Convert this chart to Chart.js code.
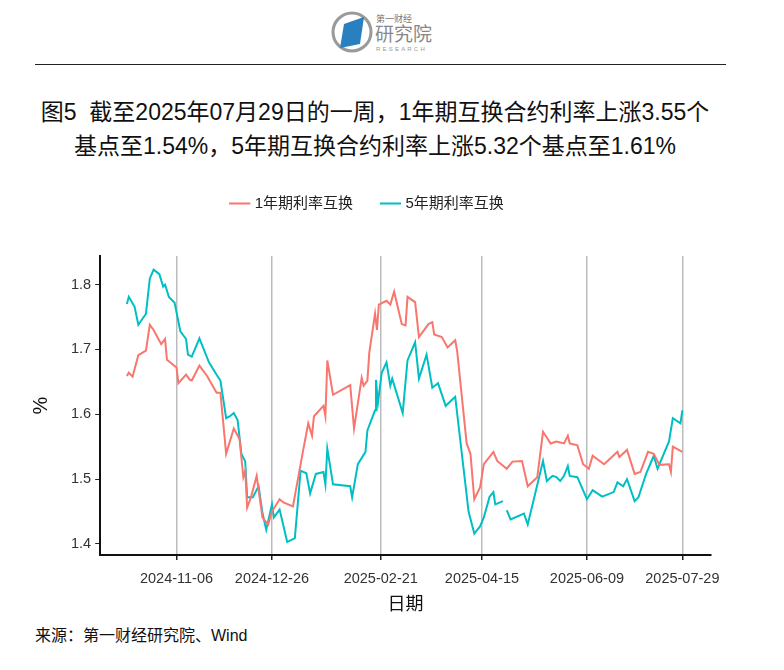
<!DOCTYPE html>
<html>
<head>
<meta charset="utf-8">
<script src="https://cdn.jsdelivr.net/npm/chart.js@4"></script>
<style>
  body { margin: 0; width: 784px; height: 670px; background: #fff; font-family: "Liberation Sans", "Noto Sans CJK SC", sans-serif; position: relative; overflow: hidden; }
  #logo { position: absolute; left: 330px; top: 8px; width: 120px; height: 48px; }
  #rule { position: absolute; left: 35px; top: 64px; width: 691px; height: 0; border-top: 1.5px solid #222; }
  #title { position: absolute; left: 0; top: 95px; width: 750px; text-align: center; font-size: 23px; line-height: 34px; color: #111; }
  #wrap { position: absolute; left: 0; top: 156px; width: 784px; height: 460px; }
  #source { position: absolute; left: 35px; top: 622px; font-size: 16px; color: #111; }
</style>
</head>
<body>
<svg id="logo" viewBox="0 0 120 48">
  <circle cx="22" cy="24" r="19" fill="none" stroke="#999" stroke-width="3"/>
  <polygon points="14,16 34,9 30,36 10,40" fill="#2a7fc1"/>
  <text x="46" y="14" font-size="9" fill="#777" font-family="Noto Sans CJK SC">第一财经</text>
  <text x="45" y="33" font-size="19" fill="#888" font-family="Noto Sans CJK SC">研究院</text>
  <text x="46" y="43" font-size="6" fill="#999" letter-spacing="2.2" font-family="Liberation Sans">RESEARCH</text>
</svg>
<div id="rule"></div>
<div id="title">图5&nbsp; 截至2025年07月29日的一周，1年期互换合约利率上涨3.55个<br>基点至1.54%，5年期互换合约利率上涨5.32个基点至1.61%</div>
<div id="wrap"><canvas id="chart" width="784" height="460"></canvas></div>
<div id="source">来源：第一财经研究院、Wind</div>
<script>
/* days counted from 2024-11-06 */
let tickDays = [0, 50, 107, 160, 215, 265]
let tickLabels = ['2024-11-06', '2024-12-26', '2025-02-21', '2025-04-15', '2025-06-09', '2025-07-29']

/* 1年期利率互换 */
let days1y = [-26,-25,-23,-20,-16,-14,-12,-8,-6,-5,0,1,5,7,8,12,16,21,23,26,30,33,35,36,37,39,42,45,48,50,54,56,61,66,69,71,72,77,78,79,82,91,93,97,98,100,101,104,105,106,110,112,114,118,120,121,125,127,132,134,135,139,142,146,147,152,154,156,159,161,166,168,173,176,181,184,189,192,196,199,203,205,206,210,213,216,218,224,231,232,236,240,243,247,250,253,258,259,260,265]
let rate1y = [1.659,1.664,1.658,1.691,1.698,1.738,1.730,1.708,1.716,1.684,1.672,1.648,1.661,1.653,1.652,1.675,1.659,1.633,1.633,1.539,1.578,1.562,1.503,1.513,1.456,1.472,1.505,1.441,1.430,1.450,1.469,1.464,1.458,1.539,1.586,1.567,1.597,1.613,1.597,1.683,1.630,1.645,1.578,1.656,1.644,1.652,1.695,1.755,1.730,1.769,1.775,1.769,1.789,1.739,1.737,1.781,1.773,1.719,1.739,1.742,1.723,1.719,1.703,1.714,1.698,1.555,1.539,1.469,1.487,1.523,1.542,1.528,1.516,1.527,1.528,1.489,1.503,1.573,1.555,1.558,1.555,1.567,1.555,1.552,1.523,1.516,1.536,1.523,1.542,1.534,1.545,1.508,1.511,1.542,1.539,1.522,1.523,1.511,1.550,1.542]

/* 5年期利率互换 (null = missing day) */
let days5y = [-26,-25,-22,-20,-16,-14,-12,-9,-7,-6,-4,-1,2,5,6,8,12,17,21,23,26,28,30,32,34,36,37,40,43,45,47,50,51,54,58,62,65,68,70,73,77,78,79,82,91,92,95,99,100,104,104.5,105.5,107.5,110,112,113,118.5,121,125,127,131,134,137,141,146,153,156,159,161,164,166,167,171,172,173,175,182,184,192,194,197,199,201,203,205,206,210,215,218,223,229,231,234,236,240,242,246,250,252,258,260,264,265]
let rate5y = [1.770,1.781,1.766,1.738,1.755,1.809,1.823,1.816,1.797,1.800,1.781,1.772,1.728,1.716,1.692,1.689,1.717,1.680,1.661,1.652,1.594,1.597,1.602,1.591,1.539,1.527,1.472,1.472,1.489,1.448,1.422,1.461,1.441,1.453,1.403,1.409,1.513,1.509,1.478,1.508,1.511,1.492,1.547,1.492,1.489,1.472,1.523,1.542,1.575,1.606,1.653,1.617,1.664,1.680,1.644,1.655,1.602,1.683,1.711,1.655,1.692,1.641,1.648,1.613,1.627,1.450,1.416,1.427,1.441,1.473,1.480,1.461,1.466,null,1.452,1.438,1.447,1.430,1.528,1.497,1.505,1.503,1.497,1.505,1.520,1.505,1.503,1.469,1.483,1.473,1.480,1.495,1.489,1.500,1.466,1.472,1.508,1.536,1.516,1.558,1.594,1.586,1.606]

function toPoints(xs, ys) {
    return xs.map((d, i) => ({ x: d, y: ys[i] }))
}

let font = { family: '"Liberation Sans", "Noto Sans CJK SC", sans-serif' }

// extra room under the legend
let legendGap = {
    id: 'legendGap',
    beforeInit(chart) {
        let fit = chart.legend.fit
        chart.legend.fit = function () { fit.bind(chart.legend)(); this.height += 35 }
    }
}

let ctx = document.querySelector('#chart').getContext('2d')
let chart = new Chart(ctx, {
    type: 'line',
    data: {
        datasets: [
            { label: '1年期利率互换', data: toPoints(days1y, rate1y), borderColor: '#f8766d', backgroundColor: '#f8766d', borderWidth: 2, pointRadius: 0, tension: 0 },
            { label: '5年期利率互换', data: toPoints(days5y, rate5y), borderColor: '#00bfc4', backgroundColor: '#00bfc4', borderWidth: 2, pointRadius: 0, tension: 0, spanGaps: false }
        ]
    },
    plugins: [legendGap],
    options: {
        responsive: false,
        animation: false,
        layout: { padding: { left: 25, right: 73, top: 10, bottom: 0 } },
        plugins: {
            legend: {
                position: 'top',
                labels: { usePointStyle: true, pointStyle: 'line', boxWidth: 20, padding: 30, color: '#222', font: { ...font, size: 15 } }
            },
            tooltip: { enabled: false }
        },
        scales: {
            x: {
                type: 'linear', min: -40, max: 280,
                afterBuildTicks: axis => { axis.ticks = tickDays.map(v => ({ value: v })) },
                ticks: { autoSkip: false, maxRotation: 0, color: '#333', font: { ...font, size: 14.5 }, padding: 10,
                         callback: v => tickLabels[tickDays.indexOf(v)] },
                grid: { color: '#bbb', lineWidth: 1.5, tickColor: '#222', tickLength: 5 },
                border: { color: '#111', width: 2 },
                title: { display: true, text: '日期', color: '#111', font: { ...font, size: 18 }, padding: { top: -3, bottom: 0 } }
            },
            y: {
                min: 1.383, max: 1.844,
                afterBuildTicks: axis => { axis.ticks = [1.4, 1.5, 1.6, 1.7, 1.8].map(v => ({ value: v })) },
                ticks: { color: '#333', font: { ...font, size: 14.5 }, padding: 4, callback: v => v.toFixed(1) },
                grid: { drawOnChartArea: false, tickColor: '#222', tickLength: 5 },
                border: { color: '#111', width: 2 },
                title: { display: true, text: '%', color: '#111', font: { ...font, size: 20 }, padding: { bottom: 14 } }
            }
        }
    }
})
</script>
</body>
</html>
